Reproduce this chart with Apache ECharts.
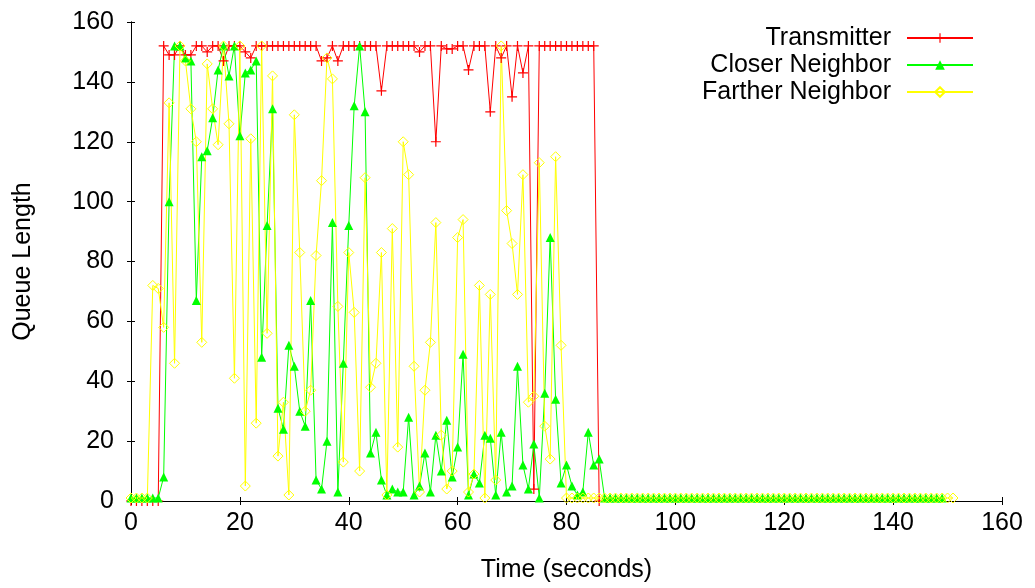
<!DOCTYPE html>
<html>
<head>
<meta charset="utf-8">
<script src="https://cdn.jsdelivr.net/npm/echarts@6/dist/echarts.min.js"></script>
<style>html,body{margin:0;padding:0;background:#fff;}#chart{width:1035px;height:588px;}</style>
</head>
<body>
<div id="chart"></div>
<script>
// Sampling: one value per second, starting at t = 0
const transmitter = [0,0,0,0,0,0,
  152,149,149,152,149,149,152,152,150,152,152,147,152,152,152,150,148,152,
  152,152,152,152,152,152,152,152,152,152,152,
  147,148,152,147,
  152,152,152,152,152,152,152,
  137,
  152,152,152,152,152,152,
  150,152,152,120,152,151,151,152,152,144,152,152,152,130,152,148,152,135,152,143,152,4,
  152,152,152,152,152,152,152,152,152,152,152,
  0];
const closer = [1,1,1,1,1,1,
  8,100,152,152,148,147,67,115,117,128,144,152,142,152,122,143,144,147,48,92,131,31,24,52,45,30,25,67,7,4,20,93,3,46,92,132,152,130,16,23,7,2,4,3,3,28,2,5,16,3,22,10,27,8,18,49,2,9,6,22,21,2,23,3,5,45,12,4,19,1,36,88,34,6,12,5,2,3,23,12,14,
  1,1,1,1,1,1,1,1,1,1,1,1,1,1,1,1,1,1,1,1,1,1,1,1,1,1,1,1,1,1,1,1,
  1,1,1,1,1,1,1,1,1,1,1,1,1,1,1,1,1,1,1,1,1,1,1,1,1,1,1,1,1,1,1];
const farther = [1,1,1,1,
  72,71,58,133,46,152,147,131,120,53,146,131,119,152,126,41,152,5,121,26,152,56,142,15,33,2,129,83,30,37,82,107,148,141,65,13,83,63,10,108,38,46,83,2,91,18,120,109,45,3,37,53,93,22,4,10,88,94,3,9,72,1,69,7,152,97,86,69,109,33,35,113,25,14,115,52,
  1,1,1,1,1,1,1,1,1,1,1,1,1,1,1,1,1,1,1,1,1,1,1,1,1,1,1,1,1,1,1,1,1,1,1,1,
  1,1,1,1,1,1,1,1,1,1,1,1,1,1,1,1,1,1,1,1,1,1,1,1,1,1,1,1,1,1,1,1,1,1,1,1];
const seriesNames = ['Transmitter', 'Closer Neighbor', 'Farther Neighbor'];
const xTicks = {min: 0, max: 160, interval: 20};
const yTicks = {min: 0, max: 160, interval: 20};

const toPairs = arr => arr.map((v, i) => [i, v]);
const FONT = 'Liberation Sans, Arial, Helvetica, sans-serif';
const FS = 25;
const plus = 'path://M0,4.4H10V5.6H0Z M4.4,0H5.6V10H4.4Z';

const chart = echarts.init(document.getElementById('chart'), null, {renderer: 'canvas'});
const axisCommon = {
  axisLine: {show: true, lineStyle: {color: '#000', width: 1}},
  axisTick: {show: true, inside: true, length: 4, lineStyle: {color: '#000'}},
  splitLine: {show: false}
};
chart.setOption({
  animation: false,
  backgroundColor: '#fff',
  textStyle: {fontFamily: FONT},
  grid: {left: 131, right: 33, top: 22, bottom: 82, containLabel: false},
  legend: {
    orient: 'vertical', right: 56, top: 20, align: 'right',
    itemWidth: 66, itemHeight: 12, itemGap: 1,
    textStyle: {fontSize: FS, fontFamily: FONT, color: '#000', lineHeight: 26, padding: [0, 11, 0, 0]},
    data: seriesNames
  },
  xAxis: [
    Object.assign({type: 'value', position: 'bottom', min: xTicks.min, max: xTicks.max, interval: xTicks.interval,
      name: 'Time (seconds)', nameLocation: 'middle', nameGap: 57,
      nameTextStyle: {fontSize: FS, fontFamily: FONT, color: '#000'},
      axisLabel: {fontSize: FS, fontFamily: FONT, color: '#000', margin: 10}}, axisCommon),
    Object.assign({type: 'value', position: 'top', min: xTicks.min, max: xTicks.max, interval: xTicks.interval,
      axisLabel: {show: false}}, axisCommon)
  ],
  yAxis: [
    Object.assign({type: 'value', position: 'left', min: yTicks.min, max: yTicks.max, interval: yTicks.interval,
      name: 'Queue Length', nameLocation: 'middle', nameGap: 95,
      nameTextStyle: {fontSize: FS, fontFamily: FONT, color: '#000'},
      axisLabel: {fontSize: FS, fontFamily: FONT, color: '#000', margin: 17}}, axisCommon),
    Object.assign({type: 'value', position: 'right', min: yTicks.min, max: yTicks.max, interval: yTicks.interval,
      axisLabel: {show: false}}, axisCommon)
  ],
  series: [
    {name: seriesNames[0], type: 'line', data: toPairs(transmitter), symbol: plus, symbolSize: 10,
      showAllSymbol: true, clip: false,
      lineStyle: {color: '#ff0000', width: 1}, itemStyle: {color: '#ff0000'}},
    {name: seriesNames[1], type: 'line', data: toPairs(closer), symbol: 'triangle', symbolSize: 9,
      showAllSymbol: true, clip: false,
      lineStyle: {color: '#00ff00', width: 1}, itemStyle: {color: '#00ff00'}},
    {name: seriesNames[2], type: 'line', data: toPairs(farther), symbol: 'diamond', symbolSize: 10,
      showAllSymbol: true, clip: false,
      lineStyle: {color: '#ffff00', width: 1}, itemStyle: {color: 'rgba(255,255,255,0)', borderColor: '#ffff00', borderWidth: 1}}
  ]
});
</script>
</body>
</html>
